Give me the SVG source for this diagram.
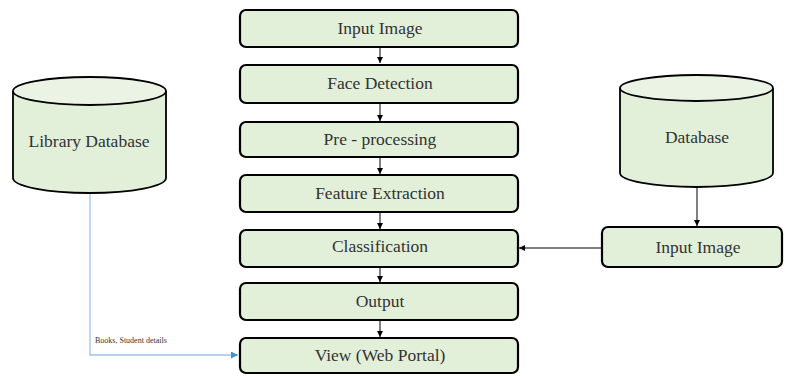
<svg xmlns="http://www.w3.org/2000/svg" width="787" height="376" viewBox="0 0 787 376">
<style>
.box{fill:#e2efd9;stroke:#000;stroke-width:2.2}
.cyl{fill:#e2efd9;stroke:#000;stroke-width:1.8}
.top{fill:#eaf3e4;stroke:#000;stroke-width:1.8}
.t{font-family:"Liberation Serif","Times New Roman",serif;font-size:17.5px;fill:#333;text-anchor:middle;dominant-baseline:central}
.s{font-family:"Liberation Serif","Times New Roman",serif;font-size:8px;fill:#333}
.c{stroke:#000;stroke-width:1;fill:none}
</style>
<defs>
<marker id="ah" viewBox="0 0 10 10" refX="10" refY="5" markerWidth="6" markerHeight="6" orient="auto" markerUnits="userSpaceOnUse"><path d="M0,0L10,5L0,10z" fill="#000"/></marker>
<marker id="ab" viewBox="0 0 10 10" refX="10" refY="5" markerWidth="7" markerHeight="7" orient="auto" markerUnits="userSpaceOnUse"><path d="M0,0L10,5L0,10z" fill="#4a8fd0"/></marker>
</defs>
<rect width="787" height="376" fill="#fff"/>
<g id="connectors">
<line class="c" x1="380" y1="48" x2="380" y2="63" marker-end="url(#ah)"/>
<line class="c" x1="380" y1="104" x2="380" y2="121" marker-end="url(#ah)"/>
<line class="c" x1="380" y1="158" x2="380" y2="174" marker-end="url(#ah)"/>
<line class="c" x1="380" y1="213" x2="380" y2="229" marker-end="url(#ah)"/>
<line class="c" x1="380" y1="268" x2="380" y2="282" marker-end="url(#ah)"/>
<line class="c" x1="380" y1="321" x2="380" y2="337" marker-end="url(#ah)"/>
<line class="c" x1="697" y1="188" x2="697" y2="226" marker-end="url(#ah)"/>
<line class="c" x1="602" y1="248" x2="519" y2="248" marker-end="url(#ah)"/>
<polyline points="90,194 90,355 238,355" fill="none" stroke="#9cc3e6" stroke-width="1.3" marker-end="url(#ab)"/>
<text class="s" x="95" y="343">Books, Student details</text>
</g>
<g id="lib-db">
<path class="cyl" d="M13,91 L13,178 A76.5,15 0 0 0 166,178 L166,91"/>
<ellipse class="top" cx="89.5" cy="91" rx="76.5" ry="14"/>
<text class="t" x="89" y="141">Library Database</text>
</g>
<g id="db">
<path class="cyl" d="M620,88 L620,173 A76.5,14 0 0 0 773,173 L773,88"/>
<ellipse class="top" cx="696.5" cy="88" rx="76.5" ry="13"/>
<text class="t" x="697" y="137">Database</text>
</g>
<g id="n-input"><rect class="box" x="240" y="10" width="278" height="37" rx="6"/><text class="t" x="380" y="28">Input Image</text></g>
<g id="n-face"><rect class="box" x="240" y="65" width="278" height="38" rx="6"/><text class="t" x="380" y="83">Face Detection</text></g>
<g id="n-pre"><rect class="box" x="240" y="122" width="278" height="35" rx="6"/><text class="t" x="380" y="139">Pre - processing</text></g>
<g id="n-feat"><rect class="box" x="240" y="175" width="278" height="37" rx="6"/><text class="t" x="380" y="193">Feature Extraction</text></g>
<g id="n-class"><rect class="box" x="240" y="230" width="278" height="37" rx="6"/><text class="t" x="380" y="246">Classification</text></g>
<g id="n-out"><rect class="box" x="240" y="283" width="278" height="37" rx="6"/><text class="t" x="380" y="301">Output</text></g>
<g id="n-view"><rect class="box" x="240" y="338" width="278" height="35" rx="6"/><text class="t" x="380" y="355">View (Web Portal)</text></g>
<g id="n-input2"><rect class="box" x="602" y="227" width="180" height="40" rx="6"/><text class="t" x="698" y="247">Input Image</text></g>
</svg>
